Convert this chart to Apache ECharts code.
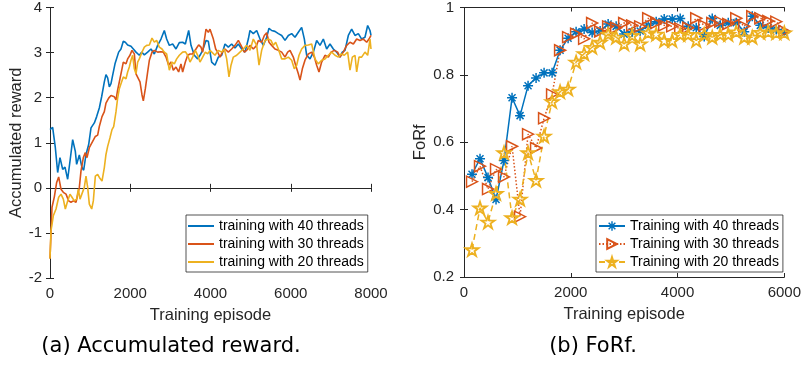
<!DOCTYPE html>
<html lang="en">
<head>
    <meta charset="UTF-8">
    <script src="https://cdn.jsdelivr.net/npm/echarts@6/dist/echarts.min.js"></script>
    <style>
        body { margin: 0; background: #fff; }
        #chart { width: 804px; height: 370px; }
    </style>
</head>
<body>
<div id="chart"></div>
<script>
    // (a) accumulated reward, [episode, reward]
    var reward40 = [[0,1.29],[66,1.34],[133,0.89],[191,0.34],[249,0.67],[316,0.41],[374,0.46],[440,0.19],[498,0.59],[565,1.07],[631,0.81],[664,0.52],[731,0.73],[797,0.45],[839,0.39],[897,0.74],[964,0.96],[1022,1.33],[1105,1.44],[1163,1.58],[1229,1.77],[1287,2.02],[1354,2.35],[1395,2.51],[1437,2.44],[1479,2.24],[1520,2.31],[1562,2.50],[1620,2.75],[1661,2.72],[1711,3.01],[1769,3.08],[1827,3.25],[1877,3.23],[1935,3.17],[2018,3.14],[2077,3.08],[2143,3.01],[2226,2.94],[2284,3.01],[2351,2.95],[2434,3.01],[2517,3.08],[2600,2.97],[2683,3.16],[2766,3.30],[2849,3.49],[2907,3.30],[2974,3.16],[3057,3.19],[3140,3.08],[3223,3.22],[3306,3.23],[3373,3.19],[3456,3.49],[3514,3.16],[3597,2.94],[3680,2.86],[3738,2.94],[3805,3.05],[3888,3.27],[3946,3.25],[4029,2.79],[4112,2.72],[4195,2.90],[4278,2.94],[4361,3.19],[4444,3.12],[4527,3.19],[4611,3.10],[4694,3.19],[4777,3.08],[4860,3.01],[4943,3.30],[4984,3.49],[5067,3.42],[5151,3.49],[5234,3.30],[5317,3.16],[5400,3.34],[5458,3.54],[5524,3.49],[5607,3.47],[5691,3.42],[5774,3.38],[5857,3.27],[5940,3.38],[6023,3.42],[6106,3.34],[6189,3.45],[6272,3.56],[6339,3.30],[6397,2.94],[6480,2.86],[6563,3.01],[6646,3.27],[6729,3.16],[6812,3.30],[6895,3.08],[6978,3.19],[7061,3.08],[7144,3.01],[7227,2.90],[7285,3.01],[7352,3.05],[7435,3.38],[7518,3.52],[7601,3.38],[7684,3.42],[7767,3.30],[7850,3.34],[7917,3.60],[7975,3.49],[8000,3.38]];
    var reward30 = [[0,-1.57],[50,-0.43],[108,-0.2],[166,0.12],[216,0.24],[274,-0.03],[332,-0.1],[399,-0.14],[465,-0.29],[523,-0.32],[581,-0.29],[648,-0.32],[689,-0.29],[731,0.01],[772,0.37],[831,0.67],[881,0.78],[922,0.67],[980,0.89],[1022,0.85],[1063,1.03],[1130,1.14],[1188,1.17],[1229,1.36],[1296,1.58],[1354,1.69],[1395,1.88],[1462,1.99],[1520,2.05],[1603,2.02],[1645,1.95],[1686,2.17],[1744,2.42],[1794,2.64],[1827,2.79],[1894,2.75],[1935,2.86],[1993,2.94],[2043,3.05],[2102,2.97],[2143,2.53],[2185,2.57],[2243,2.35],[2293,2.06],[2326,1.93],[2376,2.2],[2434,2.57],[2476,2.83],[2542,3.01],[2600,3.05],[2683,3.01],[2766,3.02],[2824,3.01],[2891,2.90],[2957,2.72],[3015,2.79],[3073,2.61],[3140,2.68],[3206,2.57],[3264,2.75],[3306,2.57],[3373,2.79],[3431,2.94],[3489,2.97],[3555,2.97],[3638,3.08],[3705,3.17],[3763,3.12],[3805,3.01],[3846,3.27],[3888,3.52],[3946,3.45],[3988,3.52],[4071,3.30],[4129,3.08],[4179,3.01],[4237,2.90],[4295,3.01],[4361,3.08],[4444,3.01],[4527,3.08],[4611,3.16],[4694,3.27],[4760,3.16],[4843,3.01],[4901,3.05],[4984,3.16],[5067,3.08],[5151,3.16],[5192,3.27],[5275,3.23],[5342,3.38],[5400,3.44],[5458,3.23],[5524,3.16],[5607,3.08],[5691,3.05],[5774,3.01],[5857,2.90],[5923,3.01],[5981,3.05],[6064,2.90],[6122,2.72],[6189,2.53],[6231,2.39],[6289,2.64],[6355,2.83],[6438,2.97],[6521,3.01],[6588,2.90],[6646,2.72],[6704,2.57],[6770,2.79],[6853,2.94],[6937,2.90],[7003,3.01],[7086,3.05],[7169,3.01],[7227,2.90],[7310,3.01],[7394,3.16],[7477,3.23],[7560,3.19],[7643,3.30],[7726,3.27],[7809,3.30],[7892,3.23],[7950,3.30],[8000,3.38]];
    var reward20 = [[0,-1.57],[25,-0.95],[83,-0.62],[150,-0.47],[216,-0.21],[274,-0.14],[332,-0.25],[382,-0.47],[440,-0.29],[498,-0.14],[548,-0.21],[606,-0.29],[664,-0.25],[706,-0.03],[748,-0.25],[797,-0.21],[855,0.01],[897,0.26],[939,0.01],[980,-0.36],[1039,-0.47],[1080,-0.29],[1130,0.26],[1188,0.30],[1229,0.23],[1296,0.15],[1354,0.45],[1395,0.74],[1437,0.92],[1495,1.11],[1545,1.29],[1587,1.36],[1645,1.69],[1686,1.99],[1728,2.2],[1769,2.31],[1827,2.46],[1894,2.42],[1935,2.57],[1977,2.68],[2018,2.83],[2060,2.94],[2102,2.64],[2143,2.53],[2185,2.79],[2226,2.86],[2293,3.01],[2351,3.12],[2409,3.16],[2476,3.17],[2542,3.32],[2600,3.23],[2658,3.27],[2725,3.12],[2791,3.08],[2849,3.01],[2907,2.97],[2974,2.61],[3040,2.79],[3098,2.75],[3157,2.86],[3223,2.94],[3306,3.01],[3373,3.02],[3431,2.94],[3489,2.79],[3555,2.90],[3622,3.05],[3680,2.94],[3738,2.79],[3805,2.90],[3871,3.01],[3929,2.97],[3988,3.05],[4029,3.01],[4112,2.94],[4195,3.05],[4278,3.01],[4345,3.08],[4403,2.86],[4461,2.46],[4511,2.72],[4569,2.90],[4652,2.94],[4735,3.01],[4818,3.08],[4901,3.16],[4984,3.05],[5067,3.30],[5151,3.16],[5209,2.72],[5275,3.05],[5358,3.27],[5441,3.30],[5507,3.27],[5566,3.16],[5624,3.23],[5691,3.08],[5774,2.86],[5857,2.86],[5940,2.90],[6023,2.83],[6089,2.64],[6147,2.72],[6206,2.94],[6272,3.08],[6355,3.16],[6438,3.17],[6521,3.19],[6604,2.86],[6687,2.75],[6770,2.83],[6853,2.86],[6937,2.94],[7020,3.01],[7103,2.94],[7186,2.90],[7252,2.97],[7335,2.94],[7418,3.01],[7477,2.61],[7535,2.90],[7601,2.94],[7643,2.57],[7701,2.90],[7767,2.90],[7850,3.01],[7917,2.94],[7975,3.30],[8000,3.08]];

    // (b) FoRf, one marker every 150 episodes
    var forfEpisodes = [150,300,450,600,750,900,1050,1200,1350,1500,1650,1800,1950,2100,2250,2400,2550,2700,2850,3000,3150,3300,3450,3600,3750,3900,4050,4200,4350,4500,4650,4800,4950,5100,5250,5400,5550,5700,5850,6000];
    var forf40 = [0.505,0.551,0.495,0.43,0.546,0.732,0.679,0.768,0.791,0.806,0.806,0.873,0.909,0.928,0.936,0.926,0.93,0.951,0.944,0.921,0.928,0.93,0.947,0.958,0.966,0.966,0.967,0.944,0.94,0.914,0.967,0.947,0.955,0.955,0.928,0.974,0.947,0.94,0.935,0.925];
    var forf30 = [0.483,0.529,0.461,0.52,0.497,0.588,0.379,0.624,0.583,0.671,0.742,0.873,0.912,0.922,0.907,0.954,0.929,0.944,0.94,0.954,0.947,0.944,0.968,0.954,0.947,0.944,0.938,0.94,0.968,0.947,0.954,0.958,0.951,0.968,0.944,0.974,0.968,0.96,0.958,0.93];
    var forf20 = [0.281,0.405,0.363,0.448,0.569,0.376,0.431,0.569,0.487,0.618,0.721,0.75,0.758,0.838,0.863,0.882,0.897,0.921,0.912,0.892,0.917,0.892,0.925,0.921,0.902,0.902,0.92,0.92,0.902,0.92,0.912,0.92,0.92,0.928,0.912,0.912,0.926,0.928,0.925,0.925];

    var rewardNames = ['training with 40 threads', 'training with 30 threads', 'training with 20 threads'];
    var forfNames = ['Training with 40 threads', 'Training with 30 threads', 'Training with 20 threads'];

    // matlab default colours
    var blue = '#0072BD', red = '#D95319', yellow = '#EDB120';
    var axisColor = '#262626';
    var font = 'Liberation Sans';

    // marker shapes: matlab '*' and pentagram
    var asterisk = 'path://M-1.5,-10L1.5,-10L1.5,10L-1.5,10Z M-10,-1.5L10,-1.5L10,1.5L-10,1.5Z M-8.06,-5.94L-5.94,-8.06L8.06,5.94L5.94,8.06Z M5.94,-8.06L8.06,-5.94L-5.94,8.06L-8.06,5.94Z';
    var star = 'path://M0,-10L2.245,-3.09L9.51,-3.09L3.633,1.18L5.88,8.09L0,3.82L-5.88,8.09L-3.633,1.18L-9.51,-3.09L-2.245,-3.09Z';

    function pairs(xs, ys) {
        var out = [];
        for (var i = 0; i < xs.length; i++) out.push([xs[i], ys[i]]);
        return out;
    }
    function plain(v) { return String(v); }

    function bottomAxis(grid, max, name) {
        return {
            type: 'value', gridIndex: grid, min: 0, max: max, interval: 2000,
            name: name, nameLocation: 'middle', nameGap: 29,
            nameTextStyle: { fontFamily: font, fontSize: 16.5, color: axisColor },
            axisLine: { lineStyle: { color: axisColor, width: 1 } },
            axisTick: { inside: true, length: 4, lineStyle: { color: axisColor } },
            axisLabel: { fontFamily: font, fontSize: 15, color: axisColor, margin: 8, formatter: plain },
            splitLine: { show: false }
        };
    }
    function topAxis(grid, max) {
        return {
            type: 'value', gridIndex: grid, position: 'top', min: 0, max: max, interval: 2000,
            axisLine: { lineStyle: { color: axisColor, width: 1 } },
            axisTick: { inside: true, length: 4, lineStyle: { color: axisColor } },
            axisLabel: { show: false },
            splitLine: { show: false }
        };
    }
    function leftAxis(grid, min, max, step, name, gap, margin) {
        return {
            type: 'value', gridIndex: grid, min: min, max: max, interval: step,
            name: name, nameLocation: 'middle', nameGap: gap,
            nameTextStyle: { fontFamily: font, fontSize: 16.5, color: axisColor },
            axisLine: { show: true, lineStyle: { color: axisColor, width: 1 } },
            axisTick: { show: true, inside: true, length: 4, lineStyle: { color: axisColor } },
            axisLabel: { fontFamily: font, fontSize: 15, color: axisColor, margin: margin },
            splitLine: { show: false }
        };
    }
    function rightAxis(grid, min, max, step) {
        return {
            type: 'value', gridIndex: grid, position: 'right', min: min, max: max, interval: step,
            axisLine: { show: true, lineStyle: { color: axisColor, width: 1 } },
            axisTick: { show: true, inside: true, length: 4, lineStyle: { color: axisColor } },
            axisLabel: { show: false },
            splitLine: { show: false }
        };
    }
    function legendBox(left, names, icon, itemHeight) {
        var data = names.map(function (n) { return icon ? { name: n, icon: icon } : n; });
        return {
            data: data, left: left, top: 215, orient: 'vertical',
            itemWidth: 26, itemHeight: itemHeight, itemGap: 4,
            padding: [4, 4, 3, 2],
            backgroundColor: '#fff', borderColor: axisColor, borderWidth: 0.8,
            textStyle: { fontFamily: font, fontSize: 14, lineHeight: 14, color: '#000' },
            selectedMode: false
        };
    }

    var chart = echarts.init(document.getElementById('chart'), null, { renderer: 'canvas' });

    var option = {
        animation: false,
        backgroundColor: '#fff',
        grid: [
            { left: 50, top: 5, width: 321, height: 273 },
            { left: 464, top: 5, width: 323, height: 272 }
        ],
        xAxis: [
            bottomAxis(0, 8000, 'Training episode'),
            topAxis(0, 8000),
            bottomAxis(1, 6000, 'Training episode'),
            topAxis(1, 6000)
        ],
        yAxis: [
            leftAxis(0, -2, 4, 1, 'Accumulated reward', 25, 8),
            rightAxis(0, -2, 4, 1),
            leftAxis(1, 0.2, 1, 0.2, 'FoRf', 34, 10),
            rightAxis(1, 0.2, 1, 0.2)
        ],
        legend: [legendBox(186, rewardNames, 'rect', 2), legendBox(596, forfNames, null, 12)],
        series: [
            { name: rewardNames[0], type: 'line', xAxisIndex: 0, yAxisIndex: 0, data: reward40, symbol: 'none',
              itemStyle: { color: blue }, lineStyle: { color: blue, width: 1.6 } },
            { name: rewardNames[1], type: 'line', xAxisIndex: 0, yAxisIndex: 0, data: reward30, symbol: 'none',
              itemStyle: { color: red }, lineStyle: { color: red, width: 1.6 } },
            { name: rewardNames[2], type: 'line', xAxisIndex: 0, yAxisIndex: 0, data: reward20, symbol: 'none',
              itemStyle: { color: yellow }, lineStyle: { color: yellow, width: 1.6 } },

            { name: forfNames[0], type: 'line', xAxisIndex: 2, yAxisIndex: 2, data: pairs(forfEpisodes, forf40),
              symbol: asterisk, symbolSize: 10, symbolKeepAspect: true,
              itemStyle: { color: blue }, lineStyle: { color: blue, width: 1.5 } },
            { name: forfNames[1], type: 'line', xAxisIndex: 2, yAxisIndex: 2, data: pairs(forfEpisodes, forf30),
              symbol: 'triangle', symbolRotate: -90, symbolSize: 11,
              itemStyle: { color: 'rgba(255,255,255,0)', borderColor: red, borderWidth: 1.5 },
              lineStyle: { color: red, width: 1.5, type: [1.5, 2] } },
            { name: forfNames[2], type: 'line', xAxisIndex: 2, yAxisIndex: 2, data: pairs(forfEpisodes, forf20),
              symbol: star, symbolSize: 13, symbolKeepAspect: true,
              itemStyle: { color: 'rgba(255,255,255,0)', borderColor: yellow, borderWidth: 1.8 },
              lineStyle: { color: yellow, width: 1.5, type: [6, 4] } }
        ],
        graphic: [
            { type: 'text', x: 171, y: 347,
              style: { text: '(a) Accumulated reward.', font: '21px "DejaVu Sans"', fill: '#000', textAlign: 'center', textVerticalAlign: 'middle' } },
            { type: 'text', x: 593, y: 347,
              style: { text: '(b) FoRf.', font: '21px "DejaVu Sans"', fill: '#000', textAlign: 'center', textVerticalAlign: 'middle' } }
        ]
    };

    chart.setOption(option);
</script>
</body>
</html>
